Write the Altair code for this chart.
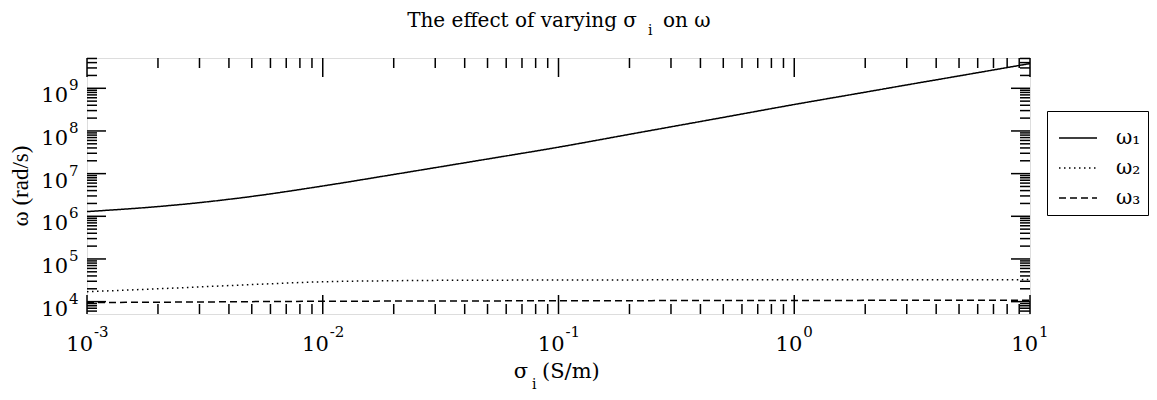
import altair as alt
import pandas as pd

# ---- data ----
sigma = [1e-3, 2e-3, 3e-3, 5e-3, 1e-2, 2e-2, 3e-2, 5e-2, 1e-1, 2e-1, 3e-1, 5e-1, 1, 2, 3, 5, 10]
omega1 = [1.29e6, 1.69e6, 2.09e6, 2.92e6, 5.13e6, 9.55e6, 1.38e7, 2.20e7, 4.17e7, 8.34e7,
          1.25e8, 2.08e8, 4.17e8, 8.11e8, 1.20e9, 1.95e9, 3.80e9]
omega2 = [1.71e4, 2.0e4, 2.21e4, 2.51e4, 2.92e4, 3.09e4, 3.15e4, 3.18e4, 3.21e4, 3.23e4,
          3.24e4, 3.25e4, 3.26e4, 3.27e4, 3.27e4, 3.27e4, 3.28e4]
omega3 = [9.5e3, 9.7e3, 9.8e3, 1.0e4, 1.02e4, 1.03e4, 1.04e4, 1.04e4, 1.05e4, 1.05e4,
          1.06e4, 1.06e4, 1.06e4, 1.07e4, 1.07e4, 1.07e4, 1.07e4]
series_names = ["ω₁", "ω₂", "ω₃"]

x_major = [1e-3, 1e-2, 1e-1, 1, 10]
x_major_exp = ["-3", "-2", "-1", "0", "1"]
y_major = [1e4, 1e5, 1e6, 1e7, 1e8, 1e9]
y_major_exp = ["4", "5", "6", "7", "8", "9"]
minor_mult = [2, 3, 4, 5, 6, 7, 8, 9]

title_parts = ["The effect of varying σ", "i", "on ω"]
xtitle_parts = ["σ", "i", "(S/m)"]
ytitle = "ω (rad/s)"

# ---- layout / style ----
W, H = 943, 256
FONT = "DejaVu Serif"
FONT2 = "Liberation Serif"
YMIN, YMAX = 10 ** 3.71, 10 ** 9.71
xs = alt.Scale(type="log", domain=[1e-3, 10])
ys = alt.Scale(type="log", domain=[YMIN, YMAX])

rows = []
for name, vals in zip(series_names, [omega1, omega2, omega3]):
    for s, v in zip(sigma, vals):
        rows.append({"sigma": s, "omega": v, "series": name})
df = pd.DataFrame(rows)

lines = alt.Chart(df).mark_line(color="black", strokeWidth=1.5, interpolate="monotone").encode(
    x=alt.X("sigma:Q", scale=xs, axis=None),
    y=alt.Y("omega:Q", scale=ys, axis=None),
    strokeDash=alt.StrokeDash(
        "series:N",
        scale=alt.Scale(domain=series_names, range=[[1, 0], [1.5, 3.5], [7, 4]]),
        legend=alt.Legend(
            title=None, orient="none", legendX=960, legendY=53,
            symbolType="stroke", symbolSize=1444, symbolStrokeWidth=1.5,
            symbolStrokeColor="black", symbolOffset=4, labelFont=FONT, labelFontSize=20,
            labelColor="black", labelOffset=18, padding=7, rowPadding=0,
            strokeColor="black", fillColor="white",
        ),
    ),
)

xminor = [k * 10 ** e for e in range(-3, 1) for k in minor_mult]
yminor = [k * 10 ** e for e in range(3, 10) for k in minor_mult if YMIN < k * 10 ** e < YMAX]
dxmaj = pd.DataFrame({"v": x_major})
dxmin = pd.DataFrame({"v": xminor})
dymaj = pd.DataFrame({"v": y_major})
dymin = pd.DataFrame({"v": yminor})

def xticks(d, L):
    b = alt.Chart(d).mark_rule(color="black", strokeWidth=1.5)
    return [
        b.encode(x=alt.X("v:Q", scale=xs, axis=None), y=alt.value(H), y2=alt.value(H - L)),
        b.encode(x=alt.X("v:Q", scale=xs, axis=None), y=alt.value(0), y2=alt.value(L)),
    ]

def yticks(d, L):
    b = alt.Chart(d).mark_rule(color="black", strokeWidth=1.5)
    return [
        b.encode(y=alt.Y("v:Q", scale=ys, axis=None), x=alt.value(0), x2=alt.value(L)),
        b.encode(y=alt.Y("v:Q", scale=ys, axis=None), x=alt.value(W), x2=alt.value(W - L)),
    ]

ticks = xticks(dxmaj, 19) + xticks(dxmin, 10) + yticks(dymaj, 19) + yticks(dymin, 10)

# tick labels 10^n
dxl = pd.DataFrame({"v": x_major, "e": x_major_exp, "base": ["10"] * len(x_major)})
dxl["neg"] = dxl["e"].str.startswith("-")
xlab = []
for neg, off in [(True, 6), (False, 8)]:
    sub = dxl[dxl["neg"] == neg]
    xlab.append(alt.Chart(sub).mark_text(align="right", baseline="alphabetic", font=FONT,
                                         fontSize=21, dx=off, color="black").encode(
        x=alt.X("v:Q", scale=xs, axis=None), y=alt.value(H + 37), text="base:N"))
    xlab.append(alt.Chart(sub).mark_text(align="left", baseline="alphabetic", font=FONT,
                                         fontSize=15, dx=off + 1, color="black").encode(
        x=alt.X("v:Q", scale=xs, axis=None), y=alt.value(H + 23), text="e:N"))

dyl = pd.DataFrame({"v": y_major, "e": y_major_exp, "base": ["10"] * len(y_major)})
ylab = [
    alt.Chart(dyl).mark_text(align="right", baseline="alphabetic", font=FONT, fontSize=21,
                             dy=14, color="black").encode(
        y=alt.Y("v:Q", scale=ys, axis=None), x=alt.value(-19), text="base:N"),
    alt.Chart(dyl).mark_text(align="left", baseline="alphabetic", font=FONT, fontSize=15,
                             dy=2, color="black").encode(
        y=alt.Y("v:Q", scale=ys, axis=None), x=alt.value(-18), text="e:N"),
]

def txt(s, x, y, size, align="left", angle=0, baseline="alphabetic", font=FONT):
    return alt.Chart(pd.DataFrame({"t": [s]})).mark_text(
        align=align, baseline=baseline, font=font, fontSize=size, angle=angle, color="black"
    ).encode(x=alt.value(x), y=alt.value(y), text="t:N")

texts = [
    txt(title_parts[0], 550, -31, 20, align="right"),
    txt(title_parts[1], 561, -23, 14),
    txt(title_parts[2], 576, -31, 20),
    txt(xtitle_parts[0], 441, H + 64, 21, align="right"),
    txt(xtitle_parts[1], 445, H + 75, 14),
    txt(xtitle_parts[2], 455, H + 64, 21),
    txt(ytitle, -66, H / 2, 23, align="center", angle=270, baseline="middle", font=FONT2),
]

chart = alt.layer(lines, *ticks, *xlab, *ylab, *texts).properties(
    width=W, height=H,
    autosize=alt.AutoSizeParams(type="none"),
    padding={"left": 79, "top": 50, "right": 119, "bottom": 78},
).configure_view(stroke="black", strokeWidth=1.5).configure(background="white")

chart.save("out.html", embed_options={"renderer": "svg", "actions": False})
